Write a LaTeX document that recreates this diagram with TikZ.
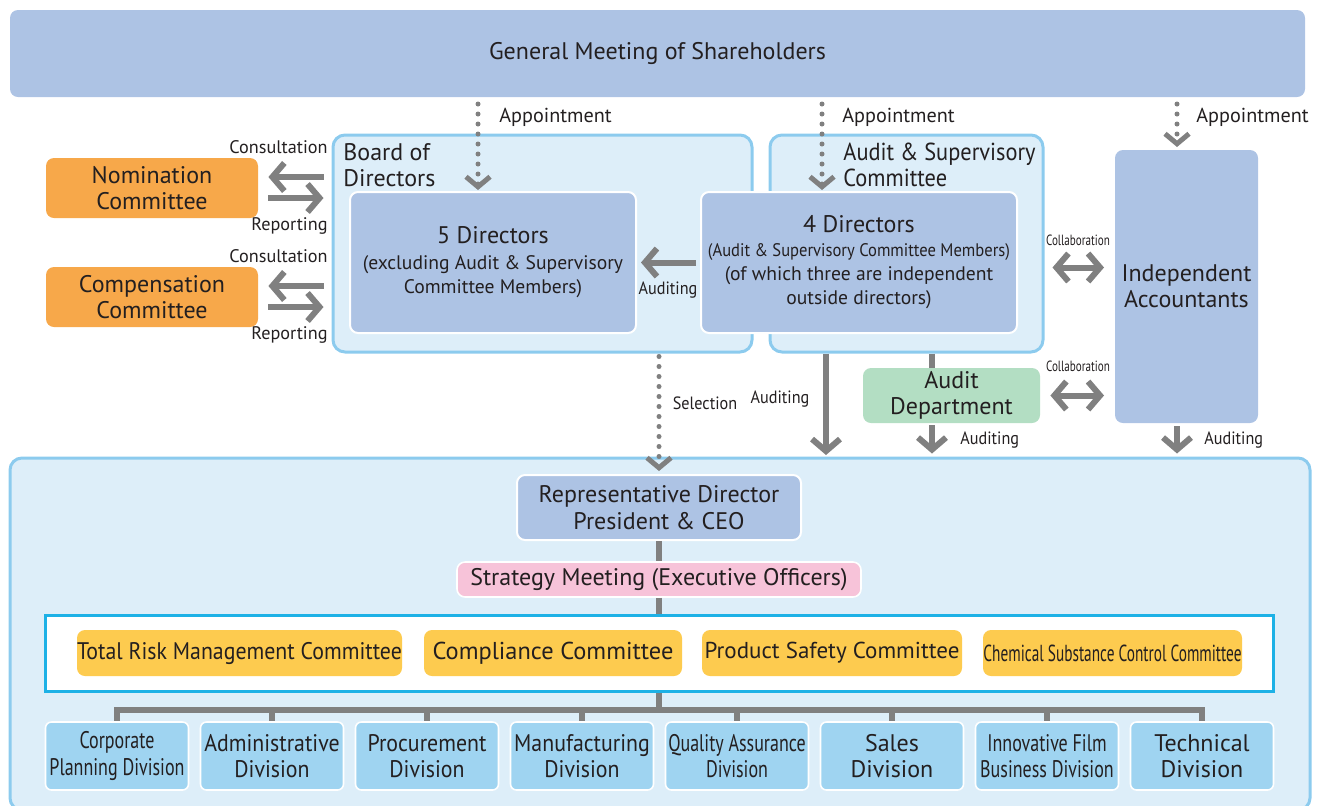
\documentclass[tikz,border=0pt]{standalone}
\usepackage{fontspec}
\setmainfont{PT Sans}
\newfontfamily\narrowfont[FakeStretch=0.91]{PT Sans}
\newfontfamily\tightfont[FakeStretch=0.75]{PT Sans}
\newfontfamily\chemfont[FakeStretch=0.66]{PT Sans}
\usetikzlibrary{arrows.meta,calc}

\definecolor{txtgray}{HTML}{231F20}
\definecolor{gmsblue}{HTML}{ADC3E4}
\definecolor{paleblue}{HTML}{DDEEF9}
\definecolor{rimblue}{HTML}{8CCBEE}
\definecolor{cyanrim}{HTML}{1DB1E6}
\definecolor{divblue}{HTML}{9FD4F1}
\definecolor{cmteorange}{HTML}{F7A84A}
\definecolor{auditgreen}{HTML}{B3DEC3}
\definecolor{meetpink}{HTML}{F7C3D9}
\definecolor{cmteyellow}{HTML}{FDCB4F}
\definecolor{arrowgray}{HTML}{808080}

\newcommand\bigsz{\fontsize{12}{13.2}\selectfont}
\newcommand\midsz{\fontsize{9.8}{13}\selectfont}

\tikzset{
  every node/.style={text=txtgray, align=center, inner sep=0pt},
  bigfont/.style={font=\bigsz},
  bluebox/.style={fill=gmsblue, draw=white, line width=1pt, rounded corners=4pt},
  framebox/.style={fill=paleblue, draw=rimblue, line width=1.5pt, rounded corners=6pt},
  orangebox/.style={fill=cmteorange, rounded corners=4pt, bigfont},
  yellowbox/.style={fill=cmteyellow, rounded corners=4pt, minimum height=23pt, bigfont},
  divbox/.style={fill=divblue, draw=white, line width=0.8pt, rounded corners=3pt,
    minimum width=71.5pt, minimum height=34pt},
  link/.style={draw=arrowgray, line width=3pt},
  fatarrow/.style={link, -{Straight Barb[length=6pt,width=14pt]}},
  dblarrow/.style={link, {Straight Barb[length=6pt,width=14pt]}-{Straight Barb[length=6pt,width=14pt]}},
  dotarrow/.style={draw=arrowgray, line width=2.5pt, line cap=round, dash pattern=on 0pt off 5pt,
    -{Straight Barb[length=5pt,width=12pt]}},
  lbl/.style={font=\fontsize{9.1}{11}\selectfont},
  applbl/.style={font=\fontsize{10.1}{12}\selectfont},
  narrowlbl/.style={font=\narrowfont\fontsize{8.9}{10}\selectfont},
  tinylbl/.style={font=\tightfont\fontsize{7.4}{9}\selectfont}
}

\begin{document}
\begin{tikzpicture}[x=0.5pt,y=-0.5pt]
  \useasboundingbox (0,0) rectangle (1321,805);

  % shareholders
  \node[bluebox, draw=none, minimum width=647.5pt, minimum height=43.5pt, bigfont] (gms) at (657.5,53.5) {General Meeting of Shareholders};

  % execution area
  \node[framebox, minimum width=650pt, minimum height=176pt] (exec) at (660,634) {};

  % board and audit committee
  \node[framebox, minimum width=209.5pt, minimum height=108.5pt] (board) at (542.5,243.5) {};
  \node[framebox, minimum width=136.5pt, minimum height=108.5pt] (asc) at (906.5,243.5) {};
  \node[bigfont, anchor=west, align=left] at (343,165) {Board of\\Directors};
  \node[font=\narrowfont\fontsize{12.3}{13.2}\selectfont, anchor=west, align=left] at (843,165) {Audit \& Supervisory\\Committee};

  \node[bluebox, minimum width=143pt, minimum height=70.5pt] (dir5) at (493,262.5)
    {\bigsz 5 Directors\\[1pt]
     \midsz (excluding Audit \& Supervisory\\\midsz Committee Members)};
  \node[bluebox, minimum width=158pt, minimum height=70.5pt] (dir4) at (859,262.5)
    {\bigsz 4 Directors\\
     \narrowfont\fontsize{9.1}{13}\selectfont (Audit \& Supervisory Committee Members)\\
     \midsz (of which three are independent\\\midsz outside directors)};

  \node[bluebox, draw=none, minimum width=71.5pt, minimum height=136.5pt, bigfont] (acct) at (1186.5,286.5) {Independent\\Accountants};
  \node[fill=auditgreen, rounded corners=4pt, minimum width=88.5pt, minimum height=27.5pt, bigfont] (auddept) at (951.5,395.5) {Audit\\Department};

  % nomination and compensation
  \node[orangebox, minimum width=106pt, minimum height=30pt] (nom) at (152,188) {Nomination\\Committee};
  \node[orangebox, minimum width=106pt, minimum height=30pt] (comp) at (152,297) {Compensation\\Committee};

  \foreach \c/\ya/\yb in {nom/147/226, comp/256/335} {
    \draw[fatarrow] ($(\c.east -| board.west)+(-8,-11)$) -- ($(\c.east)+(10,-11)$);
    \draw[fatarrow] ($(\c.east)+(10,10)$) -- ($(\c.east -| board.west)+(-8,10)$);
    \node[lbl, anchor=east] at (328,\ya) {Consultation};
    \node[lbl, anchor=east] at (328,\yb) {Reporting};
  }

  % appointment
  \coordinate (app5) at (478,190);
  \coordinate (app4) at (822,190);
  \coordinate (acx) at ($(acct.south)+(-9.5,0)$);
  \draw[dotarrow] ($(gms.south -| app5)+(0,6)$) -- (app5);
  \draw[dotarrow] ($(gms.south -| app4)+(0,6)$) -- (app4);
  \draw[dotarrow] ($(gms.south -| acx)+(0,6)$) -- ($(acx |- acct.north)+(0,-2)$);
  \node[applbl, anchor=west] at (499,117) {Appointment};
  \node[applbl, anchor=west] at (842,117) {Appointment};
  \node[applbl, anchor=west] at (1196,117) {Appointment};

  % auditing and collaboration
  \draw[fatarrow] ($(dir4.west)+(-4,0)$) -- ($(dir5.east)+(4,0)$);
  \node[narrowlbl] at (668,290) {Auditing};
  \draw[dblarrow] ($(asc.east |- dir4)+(8,5)$) -- ($(acct.west |- dir4)+(-10,5)$);
  \draw[dblarrow] ($(auddept.east)+(10,0)$) -- ($(acct.west |- auddept.east)+(-10,0)$);
  \node[tinylbl] at (1078,240) {Collaboration};
  \node[tinylbl] at (1078,366) {Collaboration};

  \coordinate (audtip) at (826,455);
  \coordinate (adx) at ($(auddept.north)+(-19.5,0)$);
  \draw[fatarrow] (asc.south -| audtip) -- (audtip);
  \draw[link] (adx |- asc.south) -- (adx);
  \draw[fatarrow] ($(adx |- auddept.south)+(0,2)$) -- ($(adx |- exec.north)+(0,-3)$);
  \draw[fatarrow] ($(acx)+(0,2)$) -- ($(acx |- exec.north)+(0,-3)$);
  \node[narrowlbl] at (780,399) {Auditing};
  \node[narrowlbl, anchor=west] at (960,440) {Auditing};
  \node[narrowlbl, anchor=west] at (1204,440) {Auditing};

  % ceo and executives
  \node[bluebox, minimum width=142pt, minimum height=32.5pt, bigfont] (ceo) at (659,507.5) {Representative Director\\President \& CEO};
  \draw[dotarrow] ($(board.south -| ceo.north)+(0,3)$) -- ($(ceo.north)+(0,-3)$);
  \node[narrowlbl] at (705,403) {Selection};

  \node[fill=meetpink, draw=white, line width=0.8pt, rounded corners=4pt, minimum width=202pt, minimum height=17.5pt, bigfont] (strat) at (659,579.5) {Strategy Meeting (Executive Officers)};
  \draw[link] (ceo.south) -- (strat.north);

  \node[fill=white, draw=cyanrim, line width=1.5pt, minimum width=614pt, minimum height=38pt] (cmte) at (659,653) {};
  \draw[link] (strat.south) -- (cmte.north);
  \node[yellowbox, minimum width=162.5pt, font=\narrowfont\fontsize{12}{14}\selectfont] (risk) at (239.5,653) {Total Risk Management Committee};
  \node[yellowbox, minimum width=129pt, font=\fontsize{12.2}{14}\selectfont] (compl) at (553,653) {Compliance Committee};
  \node[yellowbox, minimum width=130pt, font=\fontsize{11.5}{14}\selectfont] (safety) at (832,653) {Product Safety Committee};
  \node[yellowbox, minimum width=129.5pt, font=\chemfont\fontsize{11.6}{14}\selectfont] (chem) at (1112.5,653) {Chemical Substance Control Committee};

  % divisions
  \coordinate (split) at (659,710);
  \draw[link] (cmte.south) -- (split);
  \foreach \i/\x/\f/\t in {
      1/117/\tightfont/Corporate\\Planning Division,
      2/272/\narrowfont/Administrative\\Division,
      3/427/\narrowfont/Procurement\\Division,
      4/582/\narrowfont/Manufacturing\\Division,
      5/737/\tightfont/Quality Assurance\\Division,
      6/892/\relax/Sales\\Division,
      7/1047/\tightfont/Innovative Film\\Business Division,
      8/1202/\relax/Technical\\Division} {
    \node[divbox, font=\f\bigsz] (div\i) at (\x,756) {\t};
    \draw[link] (split) -| (div\i.north);
  }
\end{tikzpicture}
\end{document}
